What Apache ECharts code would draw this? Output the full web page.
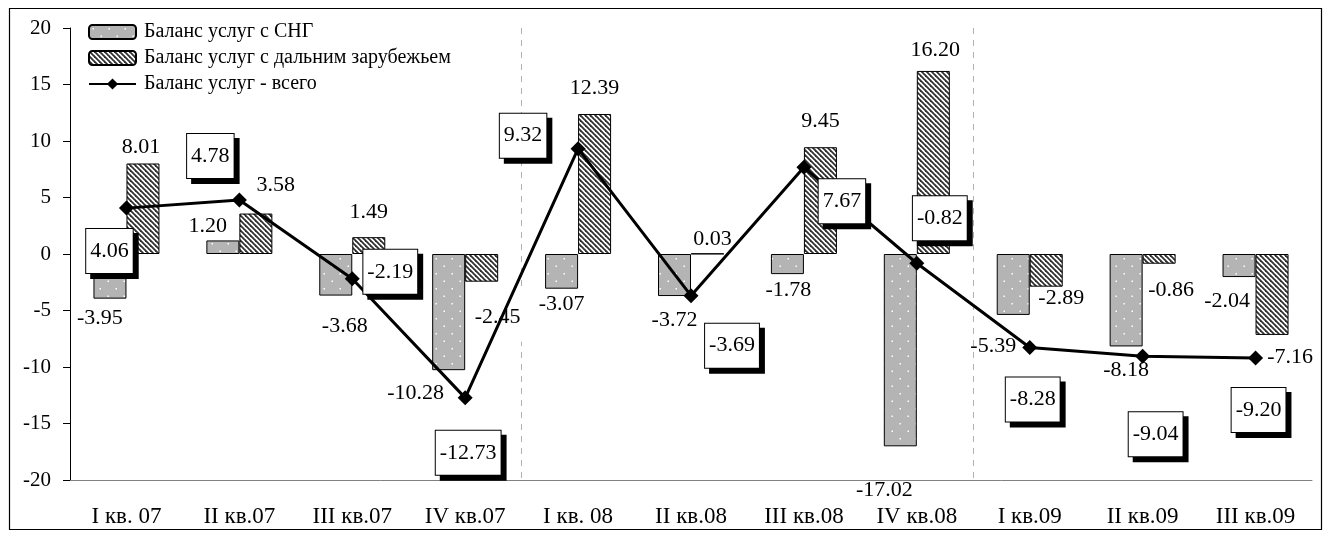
<!DOCTYPE html>
<html>
<head>
<meta charset="utf-8">
<script src="https://cdn.jsdelivr.net/npm/echarts@6/dist/echarts.min.js"></script>
<style>
html,body{margin:0;padding:0;background:#fff;}
#chart{width:1328px;height:536px;}
</style>
</head>
<body>
<div id="chart"></div>
<script>
// ---- data ----
const categories = ['I кв. 07','II кв.07','III кв.07','IV кв.07','I кв. 08','II кв.08','III кв.08','IV кв.08','I кв.09','II кв.09','III кв.09'];
const cisBalance   = [-3.95, 1.20, -3.68, -10.28, -3.07, -3.72, -1.78, -17.02, -5.39, -8.18, -2.04];
const farBalance   = [8.01, 3.58, 1.49, -2.45, 12.39, 0.03, 9.45, 16.20, -2.89, -0.86, -7.16];
const totalBalance = [4.06, 4.78, -2.19, -12.73, 9.32, -3.69, 7.67, -0.82, -8.28, -9.04, -9.20];
const seriesNames = ['Баланс услуг с СНГ', 'Баланс услуг с дальним зарубежьем', 'Баланс услуг - всего'];
const yMin = -20, yMax = 20, yStep = 5;
const separatorBefore = [4, 8]; // dashed separators before these category indices (year boundaries)

// ---- label placement (pixel offsets from each mark's label anchor) ----
const cisLabelOffsets   = [[-10,42],[-15,-21],[9,51],[-33,81],[0,33],[0,45],[1,26],[-16,140],[-20,62],[0,70],[-12,36]];
const farLabelOffsets   = [[-2,-62],[20,-49],[0,-33],[16,49],[0,-96],[5,-15],[0,-79],[2,-112],[15,28],[12,31],[18,63]];
const totalLabelOffsets = [[-17,43],[-29,-44],[38,-7],[3,55],[-55,-13],[41,50],[38,34],[23,-45],[3,52],[13,78],[3,52]];

const FONT = '"Liberation Serif", "Times New Roman", serif';

function dotPattern() {
  const c = document.createElement('canvas');
  c.width = 16; c.height = 15;
  const g = c.getContext('2d');
  g.fillStyle = '#b4b4b4';
  g.fillRect(0, 0, 16, 15);
  g.fillStyle = '#ffffff';
  g.fillRect(3.5, 3, 1.5, 1.5);
  g.fillRect(11.5, 10.5, 1.5, 1.5);
  return c;
}
function stripePattern() {
  const s = 5;
  const c = document.createElement('canvas');
  c.width = s; c.height = s;
  const g = c.getContext('2d');
  g.fillStyle = '#ffffff';
  g.fillRect(0, 0, s, s);
  g.strokeStyle = '#303030';
  g.lineWidth = 1.8;
  for (let k = -1; k <= 1; k++) {
    g.beginPath();
    g.moveTo(-1, k * s - 1);
    g.lineTo(s + 1, s + k * s + 1);
    g.stroke();
  }
  return c;
}

const fmt = p => Number(p.value).toFixed(2);
const barLabel = {
  show: true, position: 'inside', formatter: fmt,
  color: '#000', fontSize: 22, fontFamily: FONT, textBorderWidth: 0
};

const cisData = cisBalance.map((v, i) => ({ value: v, label: { offset: cisLabelOffsets[i] } }));
const farData = farBalance.map((v, i) => ({ value: v, label: { offset: farLabelOffsets[i] } }));
farData[3].label.backgroundColor = '#fff';
farData[3].label.padding = [14, 4];
const totalData = totalBalance.map((v, i) => ({ value: v, label: { offset: totalLabelOffsets[i] } }));

const chart = echarts.init(document.getElementById('chart'), null, { renderer: 'canvas' });
chart.setOption({
  animation: false,
  backgroundColor: '#fff',
  textStyle: { fontFamily: FONT },
  graphic: [{
    type: 'rect', silent: true, z: 0,
    shape: { x: 9.5, y: 8.5, width: 1312, height: 521 },
    style: { fill: 'none', stroke: '#000', lineWidth: 1.2 }
  }],
  legend: {
    orient: 'vertical', left: 88, top: 22, padding: 0,
    itemWidth: 47, itemHeight: 14, itemGap: 6,
    textStyle: { fontSize: 20, fontFamily: FONT, color: '#000', padding: [0, 0, 0, 3] },
    data: seriesNames
  },
  grid: { left: 70, right: 16, top: 28, bottom: 56, containLabel: false },
  xAxis: [{
    type: 'category', data: categories, position: 'bottom',
    axisLine: { show: false }, axisTick: { show: false },
    axisLabel: { fontSize: 23, fontFamily: FONT, color: '#000', margin: 25 },
    splitLine: { show: false }
  }, {
    type: 'category', data: categories, position: 'bottom',
    axisLine: { show: true, onZero: true, lineStyle: { color: '#808080', width: 1 } },
    axisTick: { show: false }, axisLabel: { show: false },
    splitLine: {
      show: true, showMinLine: true, showMaxLine: false,
      interval: (idx) => separatorBefore.indexOf(idx) >= 0,
      lineStyle: { color: '#b0b0b0', width: 1, type: [6, 6] }
    }
  }],
  yAxis: {
    type: 'value', min: yMin, max: yMax, interval: yStep,
    axisLine: { show: true, lineStyle: { color: '#000', width: 1 } },
    axisTick: { show: true, length: 7, lineStyle: { color: '#000' } },
    axisLabel: { fontSize: 21, fontFamily: FONT, color: '#000', margin: 19 },
    splitLine: { show: false }
  },
  series: [{
    name: seriesNames[0], type: 'bar', xAxisIndex: 0, z: 2,
    barWidth: 33, barGap: '0%',
    itemStyle: { color: { image: dotPattern(), repeat: 'repeat' }, borderColor: '#000', borderWidth: 1 },
    label: barLabel,
    data: cisData
  }, {
    name: seriesNames[1], type: 'bar', xAxisIndex: 0, z: 2,
    barWidth: 33, barGap: '0%',
    itemStyle: { color: { image: stripePattern(), repeat: 'repeat' }, borderColor: '#000', borderWidth: 1 },
    label: barLabel,
    data: farData
  }, {
    name: seriesNames[2], type: 'line', xAxisIndex: 0, z: 2,
    symbol: 'diamond', symbolSize: 15,
    lineStyle: { color: '#000', width: 3 },
    itemStyle: { color: '#000' },
    label: {
      show: true, position: 'inside', formatter: fmt,
      color: '#000', fontSize: 22, fontFamily: FONT,
      backgroundColor: '#fff', borderColor: '#000', borderWidth: 1,
      padding: [11, 4],
      shadowColor: '#000', shadowBlur: 0, shadowOffsetX: 5, shadowOffsetY: 5
    },
    data: totalData
  }]
});
</script>
</body>
</html>
